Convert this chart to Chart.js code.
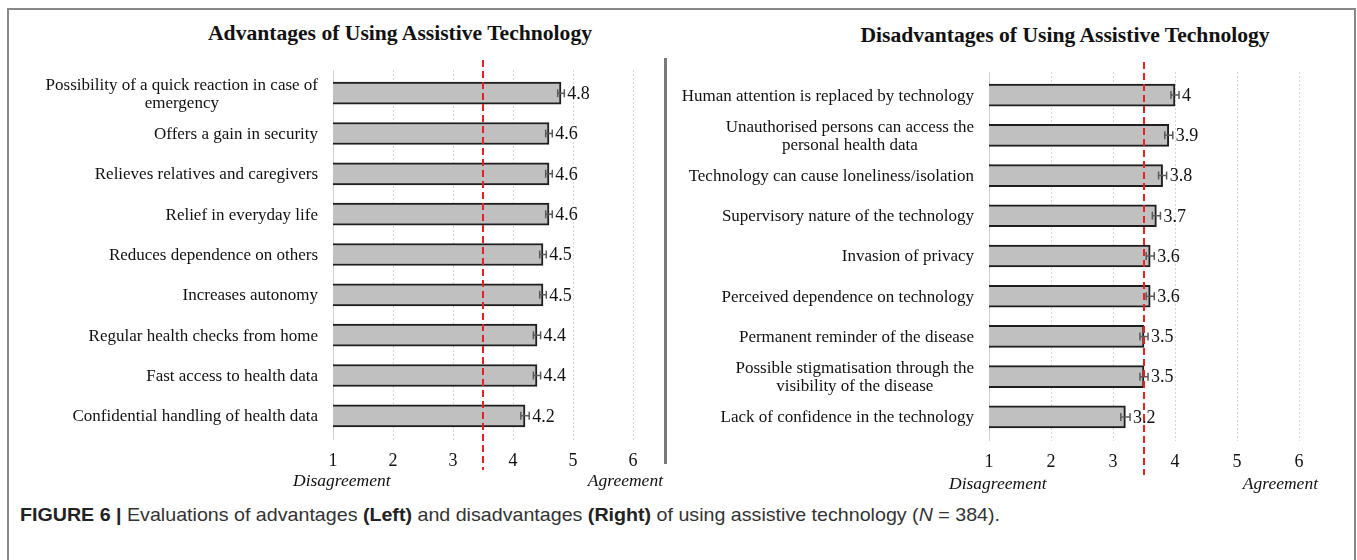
<!DOCTYPE html>
<html><head><meta charset="utf-8">
<script src="https://cdn.jsdelivr.net/npm/chart.js@4.4.0/dist/chart.umd.min.js"></script>
<style>
html,body{margin:0;padding:0;background:#fff;}
#wrap{position:relative;width:1357px;height:560px;overflow:hidden;background:#fff;}
.box{position:absolute;left:7px;top:8px;width:1349px;height:620px;border:2px solid #888;box-sizing:border-box;}
.sep{position:absolute;left:664px;top:58px;width:3px;height:406px;background:#7a7a7a;}
.title{position:absolute;font:bold 21.6px "Liberation Serif",serif;color:#111;white-space:nowrap;transform:translate(-50%,-50%);}
.ax{position:absolute;font:italic 17.5px "Liberation Serif",serif;color:#111;white-space:nowrap;transform:translateY(-50%);}
.axr{transform:translate(-100%,-50%);}
canvas{position:absolute;}
#cap{position:absolute;left:20px;top:504px;font:19px "Liberation Sans",Arial,sans-serif;color:#333;white-space:nowrap;transform-origin:0 0;line-height:22px;}
#cap b{color:#222;}
</style></head>
<body>
<div id="wrap">
  <div class="box"></div>
  <div class="sep"></div>
  <div class="title" style="left:400px;top:33px;">Advantages of Using Assistive Technology</div>
  <div class="title" style="left:1065px;top:35px;">Disadvantages of Using Assistive Technology</div>
  <canvas id="c1" width="665" height="500" style="left:0;top:0;"></canvas>
  <canvas id="c2" width="692" height="500" style="left:665px;top:0;"></canvas>
  <div class="ax" style="left:293px;top:480px;">Disagreement</div>
  <div class="ax axr" style="left:663px;top:480px;">Agreement</div>
  <div class="ax" style="left:949px;top:483px;">Disagreement</div>
  <div class="ax axr" style="left:1318px;top:483px;">Agreement</div>
  <div id="cap"><b>FIGURE 6 |</b> Evaluations of advantages <b>(Left)</b> and disadvantages <b>(Right)</b> of using assistive technology (<i>N</i> = 384).</div>
</div>
<script>
// ---- data ----
const advantageLabels = [
  ["Possibility of a quick reaction in case of", "emergency"],
  "Offers a gain in security",
  "Relieves relatives and caregivers",
  "Relief in everyday life",
  "Reduces dependence on others",
  "Increases autonomy",
  "Regular health checks from home",
  "Fast access to health data",
  "Confidential handling of health data"
];
const advantageMeans = [4.8, 4.6, 4.6, 4.6, 4.5, 4.5, 4.4, 4.4, 4.2];
const advantageErrors = [0.055, 0.055, 0.055, 0.055, 0.055, 0.055, 0.06, 0.06, 0.07];

const disadvantageLabels = [
  "Human attention is replaced by technology",
  ["Unauthorised persons can access the", "personal health data"],
  "Technology can cause loneliness/isolation",
  "Supervisory nature of the technology",
  "Invasion of privacy",
  "Perceived dependence on technology",
  "Permanent reminder of the disease",
  ["Possible stigmatisation through the", "visibility of the disease"],
  "Lack of confidence in the technology"
];
const disadvantageMeans = [4, 3.9, 3.8, 3.7, 3.6, 3.6, 3.5, 3.5, 3.2];
const disadvantageErrors = [0.065, 0.065, 0.065, 0.065, 0.065, 0.065, 0.065, 0.065, 0.075];

const scaleTicks = [1, 2, 3, 4, 5, 6];
const neutralPoint = 3.5;

const SERIF = '"Liberation Serif", "Times New Roman", serif';

const overlay = {
  id: 'overlay',
  beforeDatasetsDraw(chart) {
    const {ctx, chartArea: a, scales: {x}} = chart;
    ctx.save();
    scaleTicks.forEach(v => {
      const px = Math.round(x.getPixelForValue(v)) + 0.5;
      ctx.beginPath();
      ctx.lineWidth = 1;
      ctx.strokeStyle = v === scaleTicks[0] ? '#cfcfcf' : '#d6d6d6';
      ctx.setLineDash(v === scaleTicks[0] ? [] : [2, 2]);
      ctx.moveTo(px, a.top - 3);
      ctx.lineTo(px, a.bottom + 4);
      ctx.stroke();
    });
    ctx.restore();
  },
  afterDatasetsDraw(chart, args, o) {
    const {ctx, chartArea: a, scales: {x, y}} = chart;
    const labels = chart.data.labels;
    const vals = chart.data.datasets[0].data;
    const errs = o.errors;
    ctx.save();
    // category labels
    ctx.font = '17px ' + SERIF;
    ctx.fillStyle = '#111';
    ctx.textBaseline = 'middle';
    ctx.textAlign = 'center';
    labels.forEach((lab, i) => {
      const lines = Array.isArray(lab) ? lab : [lab];
      const widest = Math.max(...lines.map(l => ctx.measureText(l).width));
      const right = a.left - o.labelGap;
      const cx = right - widest / 2;
      const cy = y.getPixelForValue(i);
      lines.forEach((l, j) => {
        ctx.fillText(l, cx, cy + (j - (lines.length - 1) / 2) * 18 + 1);
      });
    });
    // error bars
    ctx.strokeStyle = '#5a5a5a';
    ctx.lineWidth = 1.5;
    vals.forEach((v, i) => {
      const cy = y.getPixelForValue(i);
      const x1 = x.getPixelForValue(v - errs[i]);
      const x2 = x.getPixelForValue(v + errs[i]);
      ctx.beginPath();
      ctx.moveTo(x1, cy); ctx.lineTo(x2, cy);
      ctx.moveTo(x1, cy - 4); ctx.lineTo(x1, cy + 4);
      ctx.moveTo(x2, cy - 4); ctx.lineTo(x2, cy + 4);
      ctx.stroke();
    });
    // data labels
    ctx.font = '18px ' + SERIF;
    ctx.textAlign = 'left';
    ctx.fillStyle = '#111';
    vals.forEach((v, i) => {
      const cy = y.getPixelForValue(i);
      ctx.fillText(String(v), x.getPixelForValue(v + errs[i]) + 3, cy + 1);
    });
    // neutral dashed line
    const nx = x.getPixelForValue(neutralPoint);
    ctx.beginPath();
    ctx.strokeStyle = '#e32222';
    ctx.lineWidth = 2;
    ctx.setLineDash([7, 4]);
    ctx.moveTo(nx, a.top - o.lineTop);
    ctx.lineTo(nx, a.bottom + o.lineBottom);
    ctx.stroke();
    ctx.restore();
  }
};

function makeChart(id, labels, means, errors, yWidth, pad, lineTop, lineBottom) {
  return new Chart(document.getElementById(id), {
    type: 'bar',
    data: {
      labels: labels,
      datasets: [{
        data: means,
        backgroundColor: '#c0c0c0',
        borderColor: '#1e1e1e',
        borderWidth: 2,
        borderSkipped: false,
        barThickness: 22
      }]
    },
    options: {
      indexAxis: 'y',
      responsive: false,
      animation: false,
      events: [],
      layout: {padding: pad},
      plugins: {
        legend: {display: false},
        tooltip: {enabled: false},
        overlay: {errors: errors, labelGap: 15, lineTop: lineTop, lineBottom: lineBottom}
      },
      scales: {
        x: {
          type: 'linear', min: scaleTicks[0], max: scaleTicks[scaleTicks.length - 1],
          grid: {display: false, drawTicks: false},
          border: {display: false},
          afterBuildTicks: s => { s.ticks = scaleTicks.map(v => ({value: v})); },
          ticks: {font: {family: SERIF, size: 18}, color: '#111', padding: 14},
          afterFit: s => { s.height = 40; }
        },
        y: {
          type: 'category',
          grid: {display: false},
          border: {display: false},
          ticks: {display: false},
          afterFit: s => { s.width = yWidth; }
        }
      }
    },
    plugins: [overlay]
  });
}

makeChart('c1', advantageLabels, advantageMeans, advantageErrors, 333, {left: 0, right: 32, top: 73, bottom: 24}, 13, 34);
makeChart('c2', disadvantageLabels, disadvantageMeans, disadvantageErrors, 324, {left: 0, right: 58, top: 75, bottom: 23}, 13, 38);

// fit caption width to the figure caption span
const cap = document.getElementById('cap');
const w = cap.getBoundingClientRect().width;
cap.style.transform = 'scaleX(' + (980 / w) + ')';
</script>
</body></html>
